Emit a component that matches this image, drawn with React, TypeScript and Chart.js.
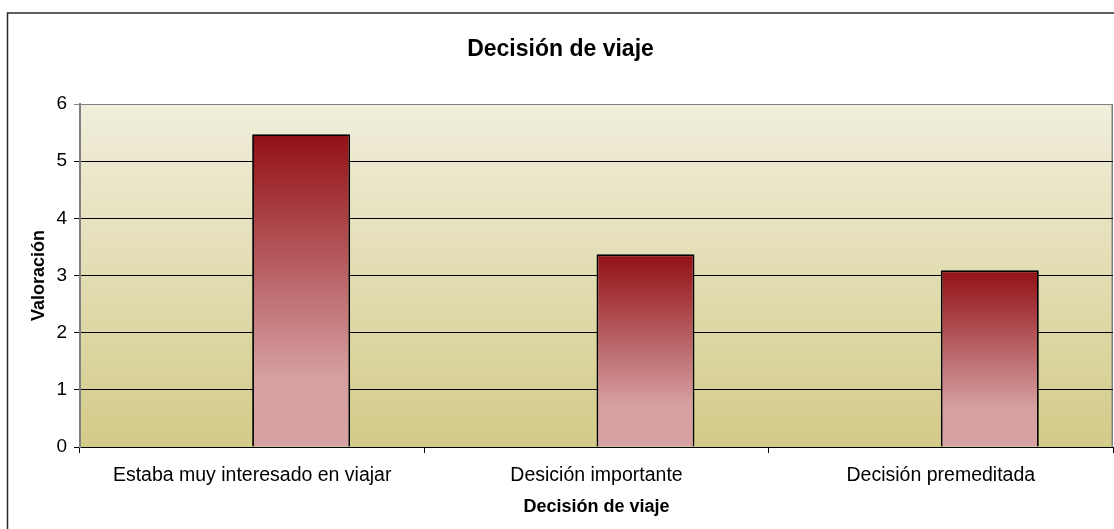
import React, { useEffect, useRef } from 'react';
import { Chart, registerables } from 'chart.js';

Chart.register(...registerables);

const categories = ['Estaba muy interesado en viajar', 'Desición importante', 'Decisión premeditada'];
const emptySeries = [null, null, null];
const valoracion = [5.47, 3.37, 3.09];
const yMin = 0;
const yMax = 6;
const yStep = 1;
const chartTitle = 'Decisión de viaje';
const xTitle = 'Decisión de viaje';
const yTitle = 'Valoración';

const FONT = "'Liberation Sans', Arial, Helvetica, sans-serif";

const backdrop = {
  id: 'backdrop',
  beforeDraw(chart: any) {
    const { ctx, chartArea: a, width, height } = chart;
    ctx.save();
    ctx.fillStyle = '#ffffff';
    ctx.fillRect(0, 0, width, height);
    const g = ctx.createLinearGradient(0, a.top, 0, a.bottom);
    g.addColorStop(0, '#F1EEDC');
    g.addColorStop(1, '#D3CB88');
    ctx.fillStyle = g;
    ctx.fillRect(a.left, a.top, a.right - a.left, a.bottom - a.top);
    ctx.strokeStyle = '#808080';
    ctx.lineWidth = 1.5;
    ctx.beginPath();
    ctx.moveTo(a.right - 0.75, a.top);
    ctx.lineTo(a.right - 0.75, a.bottom);
    ctx.stroke();
    ctx.strokeStyle = '#2a2a2a';
    ctx.lineWidth = 1.5;
    ctx.strokeRect(7.5, 13, width + 40, height + 40);
    ctx.restore();
  },
};

function barGradient(context: any) {
  const chart = context.chart;
  const a = chart.chartArea;
  if (!a || context.type !== 'data') return '#D6A2A4';
  const v = context.raw;
  if (v === null || v === undefined) return 'rgba(0,0,0,0)';
  const y = chart.scales.y;
  const top = y.getPixelForValue(v);
  const base = y.getPixelForValue(0);
  const g = chart.ctx.createLinearGradient(0, top, 0, base);
  g.addColorStop(0, 'rgb(146,16,22)');
  g.addColorStop(0.78, 'rgb(214,160,162)');
  g.addColorStop(1, 'rgb(214,161,163)');
  return g;
}

export default function App() {
  const ref = useRef<HTMLCanvasElement | null>(null);

  useEffect(() => {
    if (!ref.current) return;
    const chart = new Chart(ref.current, {
      type: 'bar',
      data: {
        labels: categories,
        datasets: [
          {
            label: 'Serie 1',
            data: emptySeries,
            backgroundColor: 'rgba(0,0,0,0)',
            borderWidth: 0,
          },
          {
            label: 'Valoración',
            data: valoracion,
            backgroundColor: barGradient,
            borderColor: '#000000',
            borderWidth: 1.8,
          },
        ],
      },
      options: {
        animation: false,
        responsive: false,
        devicePixelRatio: 1,
        categoryPercentage: 0.569,
        barPercentage: 1.0,
        layout: { padding: { left: 8, right: 1, top: 0, bottom: 0 } },
        plugins: {
          legend: { display: false },
          tooltip: { enabled: false },
          title: {
            display: true,
            text: chartTitle,
            color: '#000',
            font: { family: FONT, size: 23, weight: 'bold' },
            padding: { top: 36, bottom: 40.4 },
          },
        },
        scales: {
          x: {
            grid: {
              display: true,
              drawOnChartArea: false,
              drawTicks: true,
              tickLength: 6,
              color: '#000',
              offset: true,
            },
            border: { display: true, color: '#000', width: 1 },
            ticks: {
              color: '#000',
              font: { family: FONT, size: 19.5 },
              padding: 11,
              maxRotation: 0,
              autoSkip: false,
            },
            title: {
              display: true,
              text: xTitle,
              color: '#000',
              font: { family: FONT, size: 18, weight: 'bold' },
              padding: { top: 4, bottom: 11 },
            },
            afterFit: (s: any) => {
              s.height = 82;
            },
          },
          y: {
            min: yMin,
            max: yMax,
            grid: {
              color: (c: any) => (c.tick && c.tick.value === yMax ? '#808080' : '#000'),
              lineWidth: 1,
              tickLength: 6,
              drawTicks: true,
            },
            border: { display: true, color: '#808080', width: 2 },
            ticks: {
              stepSize: yStep,
              color: '#000',
              font: { family: FONT, size: 19 },
              padding: 7,
            },
            title: {
              display: true,
              text: yTitle,
              color: '#000',
              font: { family: FONT, size: 18, weight: 'bold' },
              padding: { top: 20, bottom: 0 },
            },
            afterFit: (s: any) => {
              s.width = 72;
            },
          },
        },
      },
      plugins: [backdrop],
    } as any);
    return () => chart.destroy();
  }, []);

  return (
    <div style={{ position: 'fixed', left: 0, top: 0, width: 1114, height: 529, background: '#fff' }}>
      <canvas ref={ref} width={1114} height={529} style={{ display: 'block', width: 1114, height: 529 }} />
    </div>
  );
}
